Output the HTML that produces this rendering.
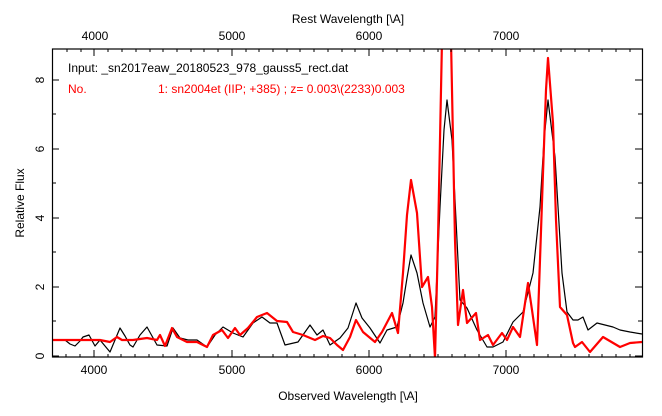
<!DOCTYPE html><html><head><style>body{margin:0;background:#fff}svg text{font-family:"Liberation Sans",sans-serif;font-size:12px}</style></head><body>
<svg width="662" height="411" viewBox="0 0 662 411">
<defs><clipPath id="c"><rect x="52.5" y="49" width="590" height="308"/></clipPath></defs>
<g clip-path="url(#c)" fill="none" stroke-linejoin="round">
<polyline stroke="#000" stroke-width="1.2" points="52,340 58,340 65,340 70,344 75,346 80,341 83,337 89,335 95,346 100,340 105,346 110,352 115,340 120,328 125,336 130,345 133,347 140,335 147,327 152,336 157,345 167,346 173,328 180,338 188,340 197,340 207,347 215,335 223,327 233,333 243,337 253,323 262,317 270,323 277,323 285,345 298,342 310,325 317,335 323,330 330,345 340,338 348,328 356,303 362,318 370,328 380,343 387,330 397,327 403,303 407,278 411,255 417,273 423,303 430,327 435,317 440,207 444,130 447,100 452,140 457,240 460,300 467,308 477,330 487,347 493,347 503,342 513,322 523,312 533,273 540,207 544,140 548,100 555,157 562,273 567,312 573,320 578,320 583,317 588,330 597,323 613,327 620,330 630,332 642,334"/>
<polyline stroke="#f00" stroke-width="2.2" points="52,340 90,340 100,340 110,342 117,337 122,340 133,340 147,338 157,340 160,335 165,346 172,328 177,337 187,342 197,342 207,347 213,335 222,330 228,338 235,328 240,335 248,328 257,317 267,313 277,321 287,322 293,332 303,335 315,340 323,336 330,338 337,345 343,350 350,337 356,320 363,332 375,342 382,332 392,313 398,333 403,273 407,215 411,180 417,213 422,287 428,277 432,307 435,358 438,240 442,40 451,40 453,140 455,240 458,325 463,290 467,323 476,313 480,340 488,335 493,345 502,333 507,340 513,327 520,337 528,283 532,310 537,345 540,260 543,173 546,90 548,58 553,123 556,220 560,307 567,315 573,343 575,347 582,342 590,352 603,337 620,347 630,343 642,342"/>
</g>
<rect x="52.5" y="49" width="590" height="308" fill="none" stroke="#000" stroke-width="1.2"/>
<g stroke="#000" stroke-width="1">
<path d="M94 357v-7M232 357v-7M369 357v-7M506 357v-7M94 49v7M232 49v7M369 49v7M506 49v7"/>
<path d="M66 357v-3M80 357v-3M108 357v-3M121 357v-3M135 357v-3M149 357v-3M163 357v-3M177 357v-3M190 357v-3M204 357v-3M218 357v-3M245 357v-3M259 357v-3M273 357v-3M287 357v-3M300 357v-3M314 357v-3M328 357v-3M342 357v-3M355 357v-3M383 357v-3M397 357v-3M410 357v-3M424 357v-3M438 357v-3M452 357v-3M465 357v-3M479 357v-3M493 357v-3M520 357v-3M534 357v-3M548 357v-3M561 357v-3M575 357v-3M589 357v-3M602 357v-3M616 357v-3M630 357v-3"/>
<path d="M67 49v3M81 49v3M108 49v3M122 49v3M136 49v3M150 49v3M163 49v3M177 49v3M191 49v3M204 49v3M218 49v3M246 49v3M259 49v3M273 49v3M287 49v3M300 49v3M314 49v3M328 49v3M342 49v3M355 49v3M383 49v3M397 49v3M410 49v3M424 49v3M438 49v3M451 49v3M465 49v3M479 49v3M492 49v3M520 49v3M534 49v3M547 49v3M561 49v3M575 49v3M589 49v3M602 49v3M616 49v3M630 49v3"/>
<path d="M52 356h7M52 287h7M52 218h7M52 149h7M52 80h7M52 321h4M52 252h4M52 183h4M52 114h4M642 356h-7M642 287h-7M642 218h-7M642 149h-7M642 80h-7M642 321h-4M642 252h-4M642 183h-4M642 114h-4"/>
</g>
<g text-anchor="middle">
<text x="94" y="374">4000</text><text x="232" y="374">5000</text><text x="369" y="374">6000</text><text x="506" y="374">7000</text>
<text x="95" y="40">4000</text><text x="232" y="40">5000</text><text x="369" y="40">6000</text><text x="506" y="40">7000</text>
<text x="348" y="400">Observed Wavelength [\A]</text>
<text x="348" y="23">Rest Wavelength [\A]</text>
<text transform="translate(44,356) rotate(-90)">0</text>
<text transform="translate(44,287) rotate(-90)">2</text>
<text transform="translate(44,218) rotate(-90)">4</text>
<text transform="translate(44,149) rotate(-90)">6</text>
<text transform="translate(44,80) rotate(-90)">8</text>
<text transform="translate(24,203) rotate(-90)">Relative Flux</text>
</g>
<text x="68" y="72">Input: _sn2017eaw_20180523_978_gauss5_rect.dat</text>
<text x="68" y="93" fill="#f00">No.</text>
<text x="158" y="93" fill="#f00">1: sn2004et (IIP; +385) ; z= 0.003\(2233)0.003</text>
</svg></body></html>
